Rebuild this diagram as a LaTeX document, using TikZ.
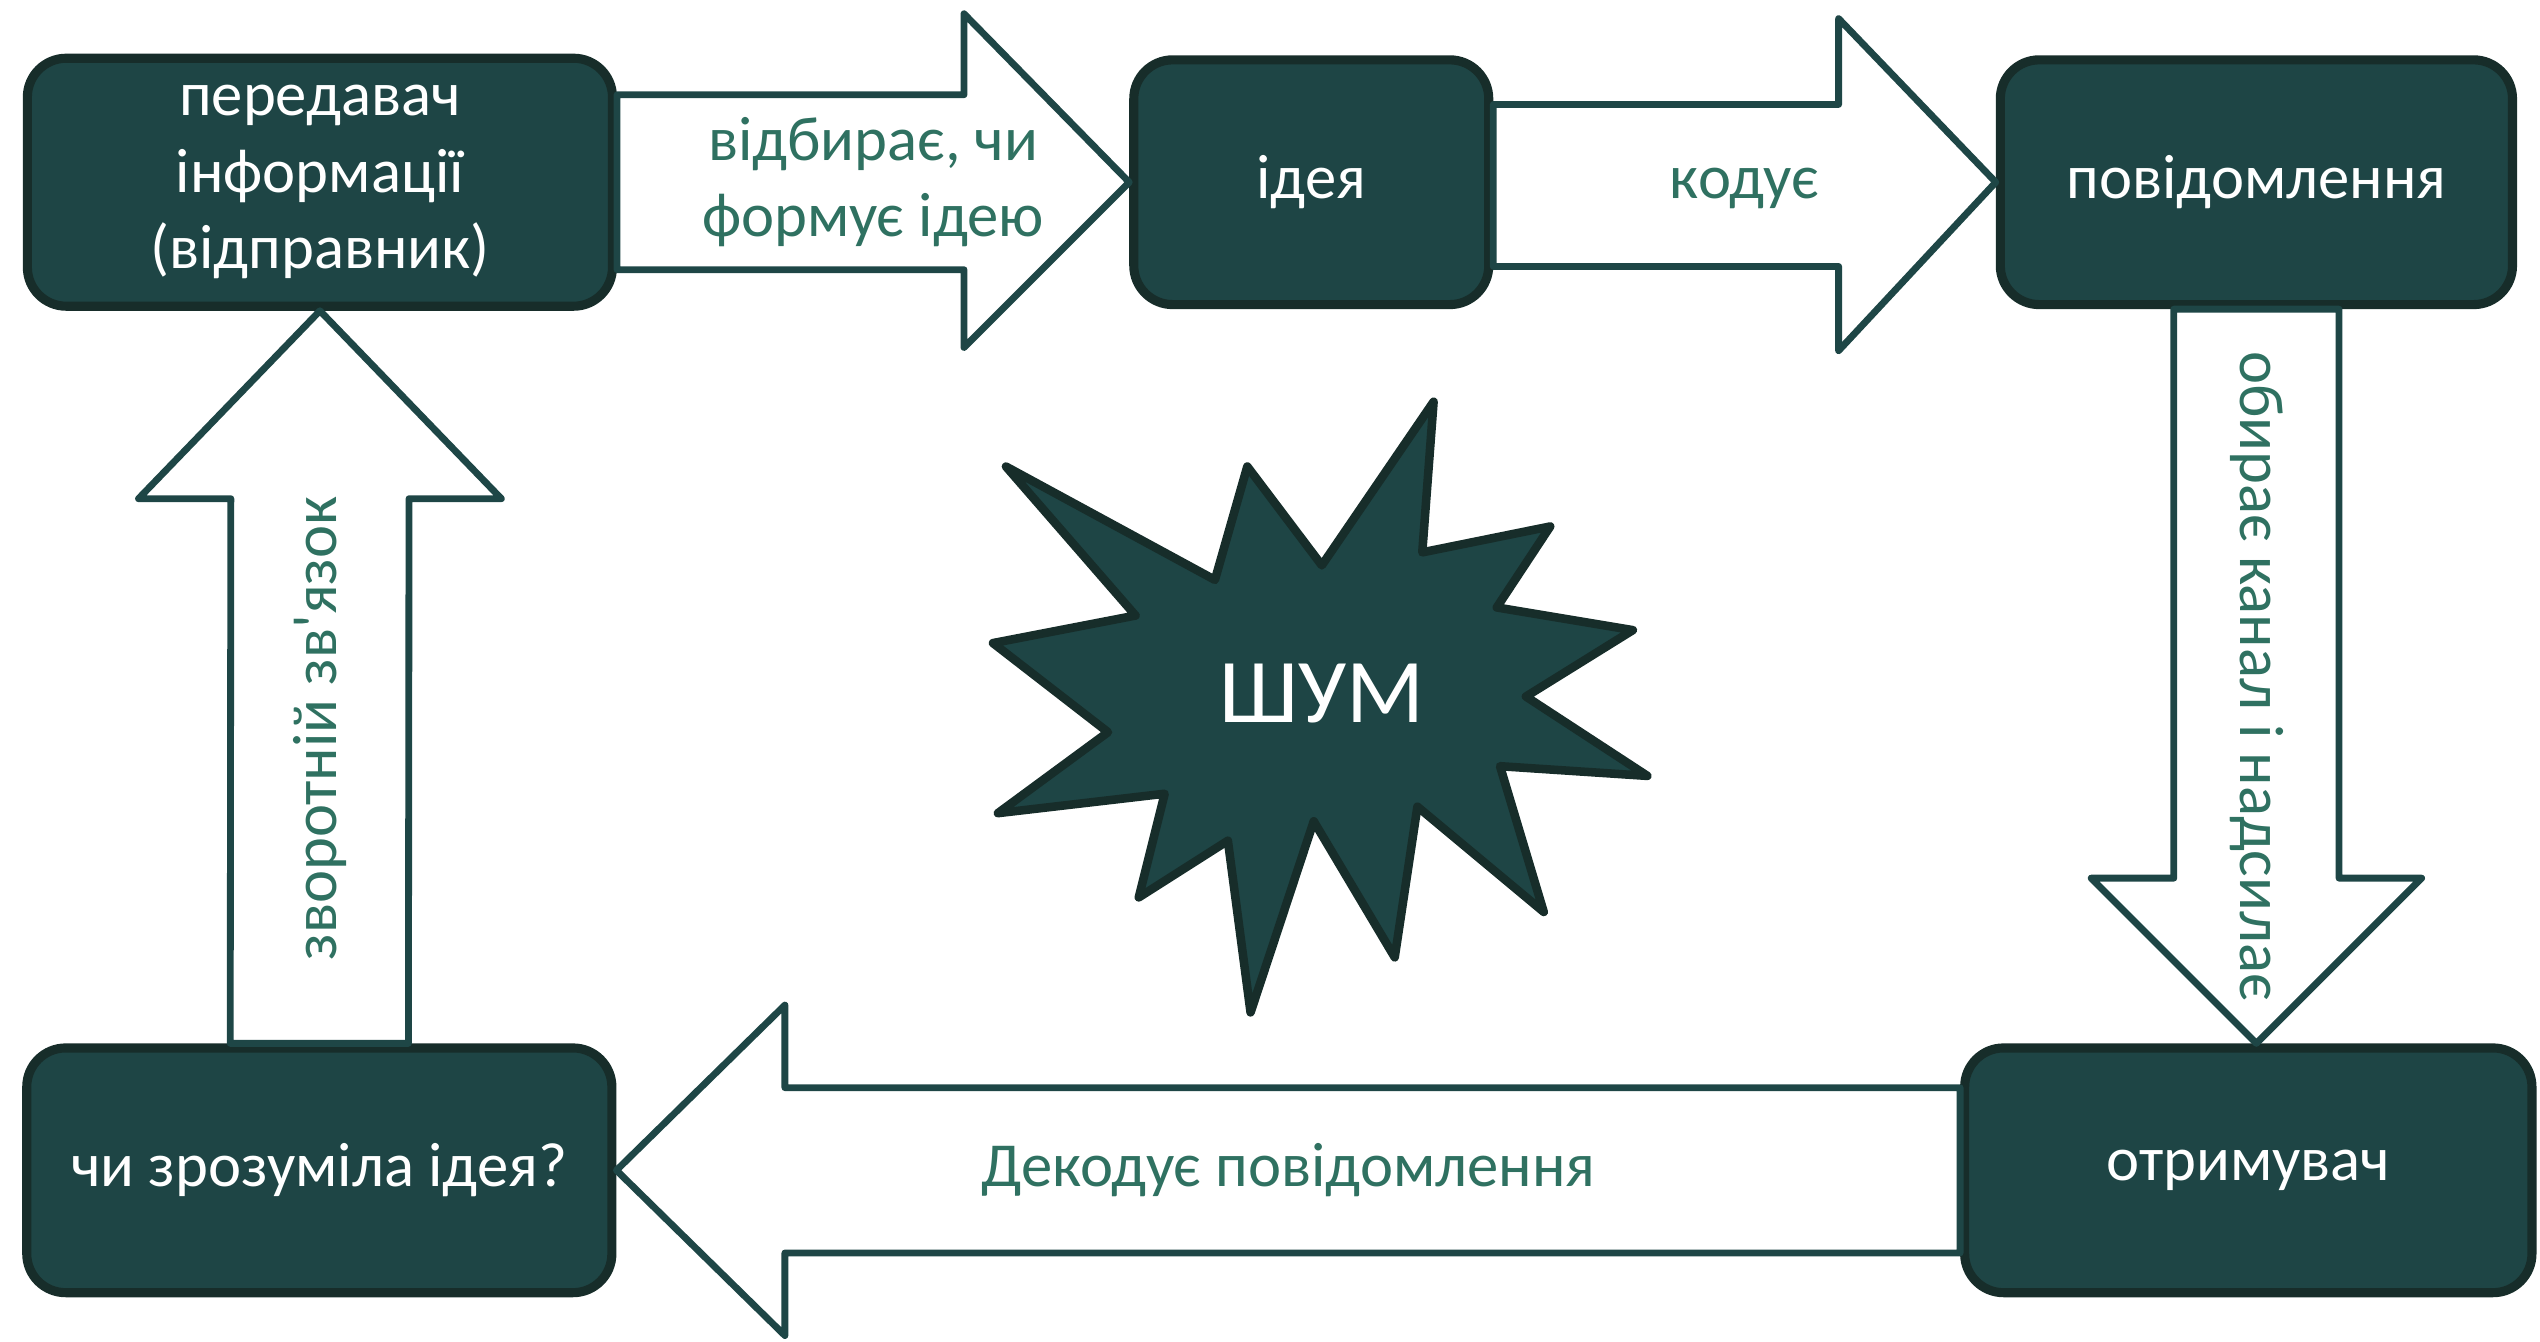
\documentclass[tikz,border=0pt]{standalone}
\usepackage{fontspec}
\setmainfont{Carlito}
\newfontfamily\rawfont{Carlito}[Ligatures=TeXOff]
\usetikzlibrary{positioning,calc}
\definecolor{boxfill}{HTML}{1E4545}
\definecolor{boxline}{HTML}{172D2A}
\definecolor{arrline}{HTML}{1E4646}
\definecolor{lbltxt}{HTML}{2F7161}

\begin{document}
\begin{tikzpicture}[x=0.01cm, y=-0.01cm,
      font=\fontsize{11}{13.4}\selectfont,
      stage/.style={draw=boxline, line width=1.6pt, fill=boxfill, rounded corners=2.4mm,
        text=white, align=center, minimum height=1.51cm, inner sep=2pt},
      blk/.style={draw=arrline, line width=1.2pt, fill=white, line join=round},
      lbl/.style={text=lbltxt, align=center, inner sep=1pt},
      burst/.style={draw=boxline, line width=1.5pt, fill=boxfill, line join=round}]

    \useasboundingbox (0,0) rectangle (1568,828);

    % the five stages
    \node[stage, minimum width=3.61cm, minimum height=1.53cm] (tx) at (197.5,112.5)
      {передавач\\інформації\\(відправник)};
    \node[stage, minimum width=2.19cm, right=3.16cm of tx] (idea) {ідея};
    \node[stage, minimum width=3.16cm, right=3.10cm of idea] (msg) {повідомлення};
    \node[stage, minimum width=3.50cm, below=4.53cm of msg, xshift=-0.05cm] (rcv) {отримувач};
    \node[stage, minimum width=3.61cm, left=8.29cm of rcv] (chk) {чи зрозуміла ідея?};

    % transmitter -> idea
    \draw[blk] ($(tx.east)+(0,-54)$) -- ($(idea.west)+(-102,-54)$) -- ++(0,-50)
      -- (idea.west) -- ($(idea.west)+(-102,102)$) -- ++(0,-48)
      -- ($(tx.east)+(0,54)$) -- cycle;
    \node[lbl] (l1) at ($(tx.east)!0.5!(idea.west)$) {відбирає, чи\\формує ідею};
    % idea -> message
    \draw[blk] ($(idea.east)+(0,-48)$) -- ($(msg.west)+(-97,-48)$) -- ++(0,-53)
      -- (msg.west) -- ($(msg.west)+(-97,104)$) -- ++(0,-52)
      -- ($(idea.east)+(0,52)$) -- cycle;
    \node[lbl] (l2) at ($(idea.east)!0.5!(msg.west)+(0,4)$) {кодує};
    % message -> receiver
    \draw[blk] ($(msg.south)+(-51,0)$) -- ($(msg.south |- rcv.north)+(-51,-102)$) -- ++(-51,0)
      -- (msg.south |- rcv.north) -- ($(msg.south |- rcv.north)+(102,-102)$) -- ++(-51,0)
      -- ($(msg.south)+(51,0)$) -- cycle;
    \node[lbl, rotate=-90] (l3) at ($(msg.south)!0.5!(msg.south |- rcv.north)$)
      {обирає канал і надсилає};
    % receiver -> check
    \draw[blk] ($(rcv.west)+(0,-51)$) -- ($(chk.east)+(104,-51)$) -- ++(0,-51)
      -- (chk.east) -- ($(chk.east)+(104,102)$) -- ++(0,-51)
      -- ($(rcv.west)+(0,51)$) -- cycle;
    \node[lbl] (l4) at ($(rcv.west)!0.5!(chk.east)$) {Декодує повідомлення};
    % check -> transmitter
    \draw[blk] ($(chk.north)+(-55,0)$) -- ($(tx.south)+(-55,116)$) -- ++(-57,0)
      -- (tx.south) -- ($(tx.south)+(112,116)$) -- ++(-57,0)
      -- ($(chk.north)+(55,0)$) -- cycle;
    \node[lbl, rotate=90] (l5) at ($(chk.north)!0.43!(tx.south)$) {зворотній зв{\rawfont'}язок};

    % noise
    \draw[burst] (621,288) -- (750,358) -- (770,288) -- (816,349) -- (885,248)
      -- (878,341) -- (957,325) -- (924,375) -- (1008,389) -- (942,430)
      -- (1017,479) -- (926,473) -- (953,563) -- (875,498) -- (861,591)
      -- (811,507) -- (772,625) -- (758,519) -- (703,554) -- (719,490)
      -- (616,502) -- (684,452) -- (613,397) -- (701,380) -- cycle;
    \node[text=white, font=\fontsize{16}{19}\selectfont] (noise) at (816,428) {ШУМ};
  \end{tikzpicture}
\end{document}
